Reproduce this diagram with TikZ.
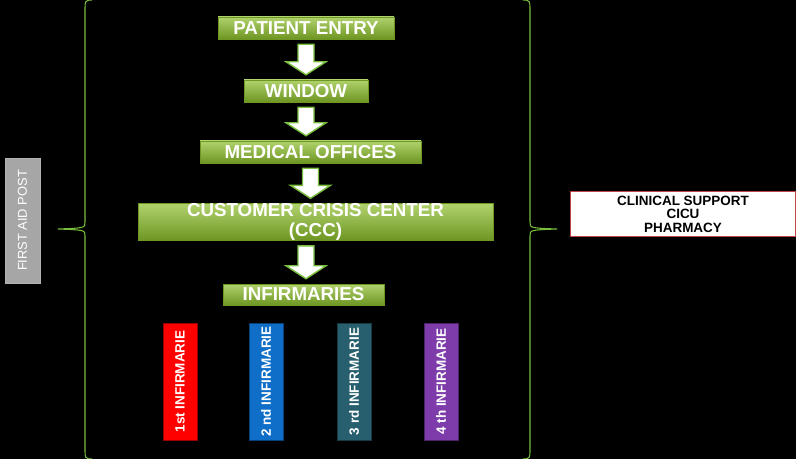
\documentclass[tikz,border=0pt]{standalone}
\usepackage{fontspec}
\setmainfont{Liberation Sans}
\usetikzlibrary{positioning,calc}
\definecolor{leaf}{RGB}{150,195,60}
\definecolor{leafdark}{RGB}{110,150,35}
\definecolor{bracegreen}{RGB}{120,190,60}
\definecolor{tealbar}{RGB}{40,95,110}
\definecolor{purplebar}{RGB}{125,60,170}
\definecolor{bluebar}{RGB}{15,110,200}
\tikzset{
  flowbox/.style={draw=leafdark,top color=leaf!75!white,bottom color=leafdark,text=white,
    font=\bfseries\fontsize{16}{16}\selectfont,align=center,inner sep=0pt},
  bar/.style={draw=#1!60!black,fill=#1,text=white,rotate=90,
    font=\bfseries\fontsize{11.5}{12}\selectfont,minimum width=117*0.03cm,minimum height=34*0.03cm,inner sep=0pt},
  flow/.style={draw=bracegreen,fill=white,line width=1.2pt,line join=miter}
}
% block arrow hanging below a node
\newcommand{\downarrowblock}[2]{
  \draw[flow] ($(#1.south)+(-8,5)$) -- ($(#1.south)+(8,5)$) -- ($(#1.south |- #2.north)+(8,-18)$)
    -- ($(#1.south |- #2.north)+(20,-18)$) -- ($(#1.south |- #2.north)+(0,-5)$)
    -- ($(#1.south |- #2.north)+(-20,-18)$) -- ($(#1.south |- #2.north)+(-8,-18)$) -- cycle;
}
\begin{document}
\begin{tikzpicture}[x=0.03cm,y=-0.03cm]
\fill[black] (0,0) rectangle (796,459);
\useasboundingbox (0,0) rectangle (796,459);

% flow of patients
\node[flowbox,minimum width=176*0.03cm,minimum height=22*0.03cm] (entry) at (306,28) {PATIENT ENTRY};
\node[flowbox,minimum width=124*0.03cm,minimum height=22*0.03cm] (window) at (306,91) {WINDOW};
\node[flowbox,minimum width=221*0.03cm,minimum height=22*0.03cm] (offices) at (310.5,152) {MEDICAL OFFICES};
\node[flowbox,minimum width=355*0.03cm,minimum height=36*0.03cm,font=\bfseries\fontsize{16}{17}\selectfont]
  (ccc) at (315.5,222) {CUSTOMER CRISIS CENTER\\(CCC)};
\node[flowbox,minimum width=161*0.03cm,minimum height=21*0.03cm] (infirm) at (303.5,294.5) {INFIRMARIES};
\node[inner sep=0pt] (cccfoot) at (306,240) {};

\downarrowblock{entry}{window}
\downarrowblock{window}{offices}
\downarrowblock{offices}{ccc}
\downarrowblock{cccfoot}{infirm}

% the four infirmaries
\node[bar=red] (inf1) at (180,381.5) {1st INFIRMARIE};
\node[bar=bluebar] (inf2) at (266,381.5) {2 nd INFIRMARIE};
\node[bar=tealbar] (inf3) at (354,381.5) {3 rd INFIRMARIE};
\node[bar=purplebar] (inf4) at (441,381.5) {4 th INFIRMARIE};

% side boxes
\node[draw=gray!60,fill=gray!70,text=white,rotate=90,font=\fontsize{11}{12}\selectfont,
  minimum width=125*0.03cm,minimum height=35*0.03cm,inner sep=0pt] (aid) at (22.5,220.5) {FIRST AID POST};
\node[draw={rgb,255:red,190;green,70;blue,70},line width=1.5pt,fill=white,align=center,
  font=\bfseries\fontsize{11.5}{11.5}\selectfont,minimum width=225*0.03cm,minimum height=45*0.03cm,inner sep=0pt]
  (support) at (683,214) {CLINICAL SUPPORT\\CICU\\PHARMACY};

% braces
\draw[bracegreen,line width=0.9pt] (92,0) .. controls (85,0) and (85,2) .. (85,8) -- (85,222)
  .. controls (85,228) .. (58,229) .. controls (85,230) .. (85,236) -- (85,451) .. controls (85,457) and (85,459) .. (92,459);
\draw[bracegreen,line width=0.9pt] (523,0) .. controls (530,0) and (530,2) .. (530,8) -- (530,222)
  .. controls (530,228) .. (557,229) .. controls (530,230) .. (530,236) -- (530,451) .. controls (530,457) and (530,459) .. (523,459);
\end{tikzpicture}
\end{document}
